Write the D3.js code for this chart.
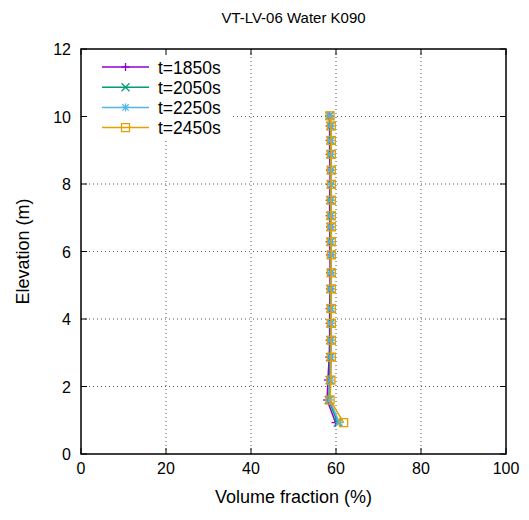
<!DOCTYPE html>
<html lang="en">
<head>
  <meta charset="UTF-8">
  <title>VT-LV-06 Water K090</title>
  <script src="https://d3js.org/d3.v7.min.js"></script>
  <style>
    body { margin: 0; background: #fff; }
    svg { font-family: "Liberation Sans", Arial, sans-serif; }
  </style>
</head>
<body>
<svg width="529" height="520"></svg>
<script>
  // data
  const elevations = [0.93, 1.6, 2.19, 2.87, 3.37, 3.87, 4.31, 4.89, 5.37, 5.9, 6.29, 6.73, 7.06, 7.52, 7.99, 8.41, 8.88, 9.29, 9.72, 10.02];
  const t1850 = [59.9, 57.9, 58.1, 58.4, 58.5, 58.5, 58.5, 58.6, 58.6, 58.6, 58.5, 58.6, 58.5, 58.5, 58.6, 58.6, 58.5, 58.5, 58.5, 58.4];
  const t2050 = [60.4, 58.3, 58.5, 58.6, 58.7, 58.7, 58.7, 58.7, 58.8, 58.8, 58.7, 58.7, 58.7, 58.7, 58.8, 58.8, 58.7, 58.7, 58.7, 58.5];
  const t2250 = [60.8, 58.5, 58.7, 58.8, 58.8, 58.8, 58.8, 58.8, 58.8, 58.9, 58.8, 58.8, 58.8, 58.8, 58.8, 58.8, 58.8, 58.8, 58.8, 58.6];
  const t2450 = [61.8, 58.6, 58.8, 58.9, 58.9, 58.9, 58.9, 58.9, 58.9, 58.9, 58.9, 58.9, 58.9, 58.9, 58.9, 58.9, 58.9, 58.9, 58.9, 58.6];
  const xTicks = [0, 20, 40, 60, 80, 100];
  const yTicks = [0, 2, 4, 6, 8, 10, 12];

  const series = [
    {name: "t=1850s", values: t1850, color: "#9400d3", symbol: "plus"},
    {name: "t=2050s", values: t2050, color: "#009e73", symbol: "cross"},
    {name: "t=2250s", values: t2250, color: "#56b4e9", symbol: "star"},
    {name: "t=2450s", values: t2450, color: "#e69f00", symbol: "square"}
  ];

  const svg = d3.select("svg");
  const pl = 81, pr = 506, pt = 49, pb = 454;

  const x = d3.scaleLinear().domain([0, 100]).range([pl, pr]);
  const y = d3.scaleLinear().domain([0, 12]).range([pb, pt]);

  // grid
  const grid = svg.append("g").attr("stroke", "#555").attr("stroke-width", 1)
    .attr("stroke-dasharray", "1,3");
  grid.selectAll(".gx").data(xTicks.slice(1, -1)).enter().append("line")
    .attr("x1", d => x(d)).attr("x2", d => x(d)).attr("y1", pt).attr("y2", pb);
  grid.selectAll(".gy").data(yTicks.slice(1, -1)).enter().append("line")
    .attr("y1", d => y(d)).attr("y2", d => y(d)).attr("x1", pl).attr("x2", pr);

  // legend background (opaque key)
  svg.append("rect").attr("x", pl + 1).attr("y", pt + 1)
    .attr("width", 148).attr("height", 88).attr("fill", "#fff");

  // ticks on all sides, pointing inward
  const tk = svg.append("g").attr("stroke", "#000").attr("stroke-width", 1);
  xTicks.forEach(v => {
    tk.append("line").attr("x1", x(v)).attr("x2", x(v)).attr("y1", pb).attr("y2", pb - 6);
    tk.append("line").attr("x1", x(v)).attr("x2", x(v)).attr("y1", pt).attr("y2", pt + 6);
  });
  yTicks.forEach(v => {
    tk.append("line").attr("x1", pl).attr("x2", pl + 6).attr("y1", y(v)).attr("y2", y(v));
    tk.append("line").attr("x1", pr).attr("x2", pr - 6).attr("y1", y(v)).attr("y2", y(v));
  });

  // tick labels
  svg.selectAll(".xl").data(xTicks).enter().append("text")
    .attr("x", d => x(d)).attr("y", pb + 20).attr("text-anchor", "middle")
    .attr("font-size", 16).text(d => d);
  svg.selectAll(".yl").data(yTicks).enter().append("text")
    .attr("x", pl - 10).attr("y", d => y(d) + 6).attr("text-anchor", "end")
    .attr("font-size", 16).text(d => d);

  function drawSymbol(g, type, cx, cy, color) {
    const s = 4;
    if (type === "plus" || type === "star") {
      g.append("line").attr("x1", cx - s).attr("x2", cx + s).attr("y1", cy).attr("y2", cy).attr("stroke", color);
      g.append("line").attr("x1", cx).attr("x2", cx).attr("y1", cy - s).attr("y2", cy + s).attr("stroke", color);
    }
    if (type === "cross" || type === "star") {
      const c = type === "star" ? 3.2 : s;
      g.append("line").attr("x1", cx - c).attr("x2", cx + c).attr("y1", cy - c).attr("y2", cy + c).attr("stroke", color);
      g.append("line").attr("x1", cx - c).attr("x2", cx + c).attr("y1", cy + c).attr("y2", cy - c).attr("stroke", color);
    }
    if (type === "square") {
      g.append("rect").attr("x", cx - 4).attr("y", cy - 4).attr("width", 8).attr("height", 8)
        .attr("fill", "none").attr("stroke", color);
    }
  }

  const line = d3.line().x(d => x(d[0])).y(d => y(d[1]));

  series.forEach(s => {
    const pts = s.values.map((v, i) => [v, elevations[i]]);
    const g = svg.append("g").attr("stroke-width", 1.3);
    g.append("path").datum(pts).attr("d", line).attr("fill", "none").attr("stroke", s.color).attr("stroke-width", 1.5);
    pts.forEach(p => drawSymbol(g, s.symbol, x(p[0]), y(p[1]), s.color));
  });

  // legend
  series.forEach((s, i) => {
    const ly = 67 + i * 20.2;
    const g = svg.append("g").attr("stroke-width", 1.3);
    g.append("line").attr("x1", 102).attr("x2", 149).attr("y1", ly).attr("y2", ly)
      .attr("stroke", s.color).attr("stroke-width", 1.5);
    drawSymbol(g, s.symbol, 125.5, ly, s.color);
    svg.append("text").attr("x", 158).attr("y", ly + 6.5).attr("font-size", 17.5).text(s.name);
  });

  // frame
  svg.append("rect").attr("x", pl).attr("y", pt).attr("width", pr - pl).attr("height", pb - pt)
    .attr("fill", "none").attr("stroke", "#000").attr("stroke-width", 1.5);

  // titles
  svg.append("text").attr("x", (pl + pr) / 2).attr("y", 23).attr("text-anchor", "middle")
    .attr("font-size", 15).text("VT-LV-06 Water K090");
  svg.append("text").attr("x", (pl + pr) / 2).attr("y", 503).attr("text-anchor", "middle")
    .attr("font-size", 18).text("Volume fraction (%)");
  svg.append("text").attr("transform", `translate(29,${(pt + pb) / 2}) rotate(-90)`)
    .attr("text-anchor", "middle").attr("font-size", 18).text("Elevation (m)");
</script>
</body>
</html>
